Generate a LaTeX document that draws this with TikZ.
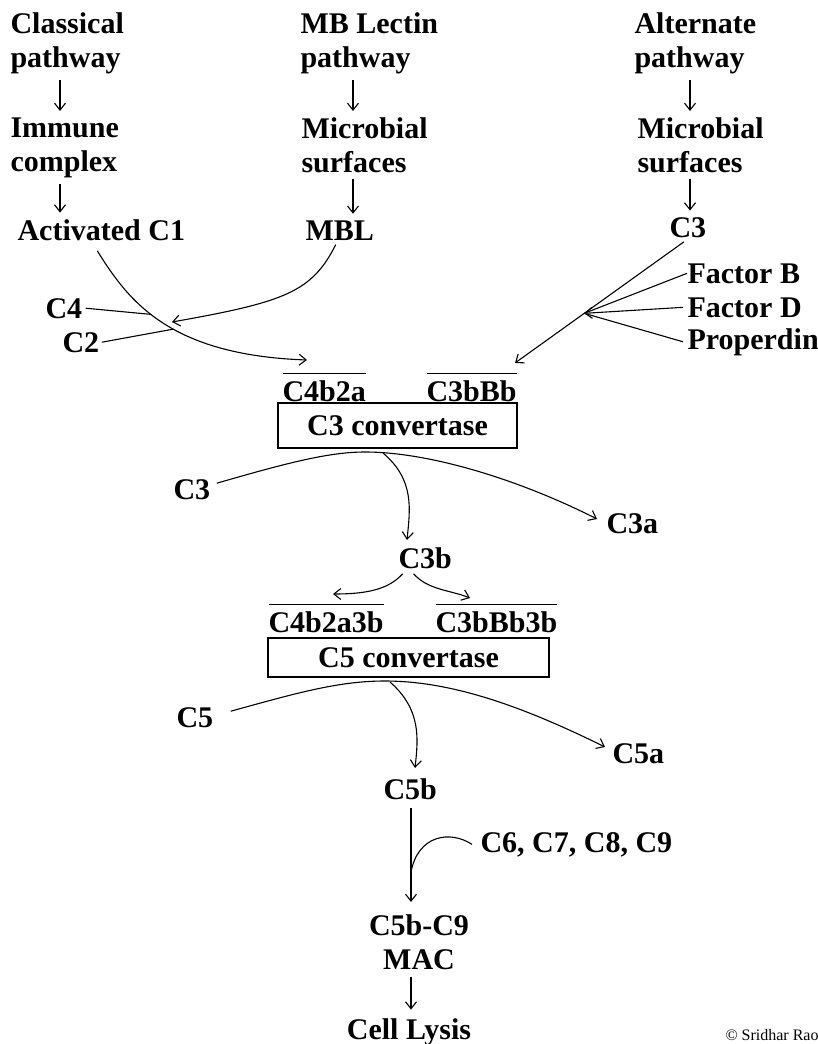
\documentclass[tikz,border=0pt]{standalone}
\usepackage{fontspec}
\setmainfont{Liberation Serif}
\usepackage{tikz}
\usetikzlibrary{arrows.meta}

\newcommand{\ovl}[1]{\vbox{\hrule height 0.6pt\kern 3pt\hbox{#1}}}

\begin{document}
\begin{tikzpicture}[x=0.5pt,y=-0.5pt,line width=0.55pt,
    >={Straight Barb[length=3.5pt,width=5.5pt]},
    lbl/.style={inner sep=0pt,font=\bfseries\fontsize{15pt}{17pt}\selectfont},
    twoline/.style={lbl,align=left,anchor=north west},
    convbox/.style={draw,inner sep=0pt,minimum width=119.5pt,minimum height=22.5pt,
      font=\bfseries\fontsize{15pt}{17pt}\selectfont},
    gap/.style={shorten <=3pt,shorten >=3pt}]
    \useasboundingbox (0,0) rectangle (818,1044);

    % the three pathways
    \node[twoline] (cp)  at (10,12)  {Classical\\pathway};
    \node[twoline] (ml)  at (300,12) {MB Lectin\\pathway};
    \node[twoline] (ap)  at (634,12) {Alternate\\pathway};
    \node[twoline] (ic)  at (10,117)  {Immune\\complex};
    \node[twoline] (ms1) at (301,117) {Microbial\\surfaces};
    \node[twoline] (ms2) at (637,117) {Microbial\\surfaces};
    \node[lbl,anchor=base west] (ac)  at (17,240)  {Activated C1};
    \node[lbl,anchor=base west] (mbl) at (305,240) {MBL};
    \node[lbl,anchor=base west] (c3t) at (669,237) {C3};

    \coordinate (colA) at (60,0);
    \coordinate (colB) at (353,0);
    \coordinate (colC) at (690,0);
    \draw[->,gap] (cp.south -| colA) -- (ic.north -| colA);
    \draw[->,gap] (ic.south -| colA) -- (ac.north -| colA);
    \draw[->,gap] (ml.south -| colB) -- (ms1.north -| colB);
    \draw[->,gap] (ms1.south -| colB) -- (mbl.north -| colB);
    \draw[->,gap] (ap.south -| colC) -- (ms2.north -| colC);
    \draw[->,gap] (ms2.south -| colC) -- (c3t.north -| colC);

    % inputs
    \node[lbl,anchor=base west] (c4) at (45,318) {C4};
    \node[lbl,anchor=base west] (c2) at (62,352) {C2};
    \node[lbl,anchor=base west] (fb) at (687,283) {Factor B};
    \node[lbl,anchor=base west] (fd) at (687,317) {Factor D};
    \node[lbl,anchor=base west] (pr) at (687,349) {Properdin};

    % C3 convertase
    \node[lbl,anchor=base west] (ov1) at (282,401) {\ovl{C4b2a}};
    \node[lbl,anchor=base west] (ov2) at (426,401) {\ovl{C3bBb}};
    \node[convbox] (cv3) at (397.5,425.5) {C3 convertase};

    \coordinate (t1) at (307,360);
    \coordinate (j1) at (172,322);
    \coordinate (t2) at (515,363);

    \draw[->] ([xshift=-2pt,yshift=-5pt]ac.south) .. controls (128,300) and (168,355) .. (t1)
      coordinate[pos=0.44] (m4) coordinate[pos=0.56] (m2);
    \draw[->] ([xshift=-2pt,yshift=-2pt]mbl.south) .. controls (312,292) and (285,302) .. (j1);
    \draw ([xshift=1.5pt]c4.east) -- (m4);
    \draw ([xshift=1pt]c2.east) -- (m2);
    \draw[->] ([xshift=-2pt,yshift=-2pt]c3t.south) -- (t2) coordinate[pos=0.59] (j2);
    \draw (fb.west) -- (j2);
    \draw[->] ([xshift=-2pt]fd.west) -- (j2);
    \draw ([xshift=-2pt]pr.west) -- (j2);

    % C3 cleavage
    \node[lbl,anchor=base west] (c3l) at (173,499) {C3};
    \node[lbl,anchor=base west] (c3a) at (606,533) {C3a};
    \node[lbl,anchor=base west] (c3b) at (398,568) {C3b};
    \node[lbl,anchor=base west] (ov3) at (268,632) {\ovl{C4b2a3b}};
    \node[lbl,anchor=base west] (ov4) at (435,632) {\ovl{C3bBb3b}};
    \node[convbox,minimum width=140.5pt,minimum height=19.5pt] (cv5) at (408.5,657.5) {C5 convertase};

    \coordinate (s3) at (365,452);
    \coordinate (b3) at (383,453);
    \coordinate (t3) at (597,519);
    \coordinate (t3b) at (407,540);
    \coordinate (tl3) at (333,594);
    \coordinate (tr3) at (470,598);

    \draw[->] ([xshift=3pt,yshift=3pt]c3l.east) .. controls (290,462) and (330,452) .. (s3)
      .. controls (430,452) and (520,480) .. (t3);
    \draw[->] (b3) .. controls (415,480) and (410,510) .. (t3b);
    \draw[->] ([xshift=-11.3pt,yshift=-2.5pt]c3b.south) .. controls (388,590) and (365,594) .. (tl3);
    \draw[->] ([xshift=-5.8pt,yshift=-2.5pt]c3b.south) .. controls (428,590) and (450,590) .. (tr3);

    % C5 cleavage and MAC
    \node[lbl,anchor=base west] (c5l) at (176,727) {C5};
    \node[lbl,anchor=base west] (c5a) at (612,763) {C5a};
    \node[lbl,anchor=base west] (c5b) at (383,799) {C5b};
    \node[lbl,anchor=base west] (c69) at (480,852) {C6, C7, C8, C9};
    \node[lbl,align=center,anchor=north] (mac) at (419,914) {C5b-C9\\MAC};
    \node[lbl,anchor=base] (cl) at (409,1039) {Cell Lysis};

    \coordinate (s5) at (385,681);
    \coordinate (b5) at (390,682);
    \coordinate (t5) at (605,747);
    \coordinate (t5b) at (415,768);
    \coordinate (j3) at (411,872);

    \draw[->] ([xshift=8.5pt,yshift=3pt]c5l.east) .. controls (300,692) and (340,681) .. (s5)
      .. controls (450,681) and (520,705) .. (t5);
    \draw[->] (b5) .. controls (422,710) and (418,740) .. (t5b);
    \draw[->,shorten <=4pt,shorten >=6pt] (c5b.south -| j3) -- (mac.north -| j3);
    \draw ([xshift=-4pt]c69.west) .. controls (450,830) and (418,835) .. (j3);
    \draw[->,shorten <=3.5pt,shorten >=4pt] (mac.south -| j3) -- (cl.north -| j3);

    \node[inner sep=0pt,anchor=base west,font=\fontsize{8pt}{10pt}\selectfont] (copy) at (725,1040) {© Sridhar Rao};
\end{tikzpicture}
\end{document}
